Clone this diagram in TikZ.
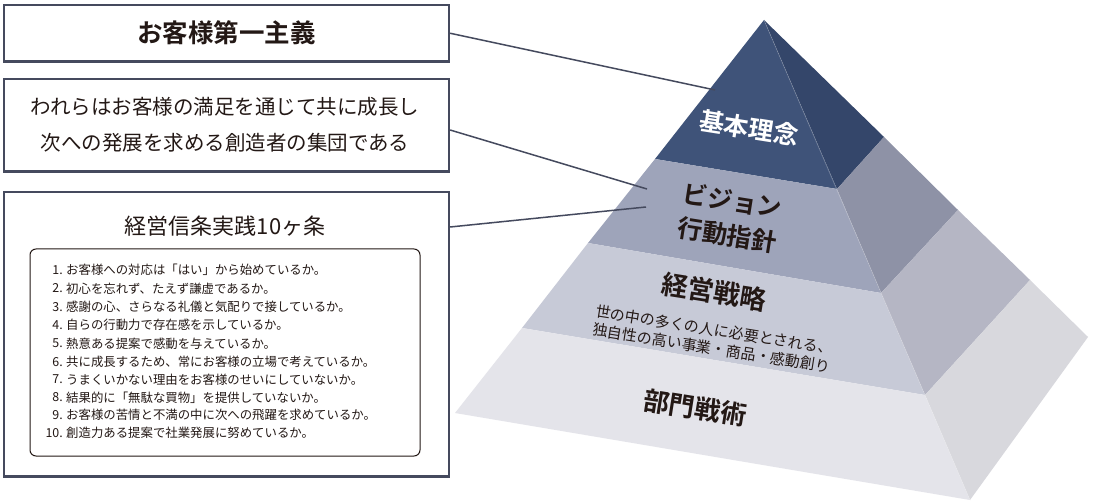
\documentclass[tikz,border=0pt]{standalone}
\usepackage{fontspec}
\newfontfamily\jp{Noto Sans CJK JP}[BoldFont={* Bold}]
\definecolor{frame}{HTML}{454A5E}
\definecolor{ink}{HTML}{231815}
\definecolor{f1}{HTML}{3F5379}
\definecolor{s1}{HTML}{34466A}
\definecolor{f2}{HTML}{9EA4BA}
\definecolor{s2}{HTML}{8E92A6}
\definecolor{f3}{HTML}{C7CAD7}
\definecolor{s3}{HTML}{B5B6C4}
\definecolor{f4}{HTML}{E4E4EA}
\definecolor{s4}{HTML}{D8D8DD}
\tikzset{
  box/.style={draw=frame, line width=2.2pt, inner sep=0pt},
  conn/.style={draw=frame, line width=1.5pt},
  tier/.style={font=\jp\bfseries\fontsize{25}{28}\selectfont, text=ink, inner sep=0pt, rotate=-9},
  sub/.style={font=\jp\fontsize{15}{18.5}\selectfont, text=ink, inner sep=0pt, rotate=-9, align=center},
  item/.style={font=\jp\fontsize{12.4}{14}\selectfont, text=ink, inner sep=0pt}
}
\begin{document}
\begin{tikzpicture}[x=1pt,y=-1pt]
\useasboundingbox (0,0) rectangle (1100,502);
\fill[white] (0,0) rectangle (1100,502);
% pyramid corners
\coordinate (A) at (764,20);
\coordinate (L1) at (655,159); \coordinate (F1) at (837,189); \coordinate (R1) at (884,137);
\coordinate (L2) at (588,243); \coordinate (F2) at (881,293); \coordinate (R2) at (958,210);
\coordinate (L3) at (522,328); \coordinate (F3) at (925,395); \coordinate (R3) at (1030,280);
\coordinate (L4) at (455,413); \coordinate (F4) at (970,500); \coordinate (R4) at (1088,337);
% faces
\fill[f1] (A) -- (L1) -- (F1) -- cycle;
\fill[s1] (A) -- (F1) -- (R1) -- cycle;
\fill[f2] (L1) -- (L2) -- (F2) -- (F1) -- cycle;
\fill[s2] (F1) -- (F2) -- (R2) -- (R1) -- cycle;
\fill[f3] (L2) -- (L3) -- (F3) -- (F2) -- cycle;
\fill[s3] (F2) -- (F3) -- (R3) -- (R2) -- cycle;
\fill[f4] (L3) -- (L4) -- (F4) -- (F3) -- cycle;
\fill[s4] (F3) -- (F4) -- (R4) -- (R3) -- cycle;
\draw[white, opacity=0.25, line width=0.6pt] (A) -- (F4);
% boxes
\node[box, minimum width=445pt, minimum height=56.5pt] (b1) at (226.5,33.25) {};
\node[font=\jp\bfseries\fontsize{25.5}{28}\selectfont, text=ink] (t1) at (226.5,33) {お客様第一主義};
\node[box, minimum width=445pt, minimum height=92.5pt] (b2) at (226.5,125.25) {};
\node[font=\jp\fontsize{20.5}{36}\selectfont, text=ink, align=center] (t2) at (225,125) {われらはお客様の満足を通じて共に成長し\\次への発展を求める創造者の集団である};
\node[box, minimum width=445pt, minimum height=284.5pt] (b3) at (226.5,334.25) {};
\node[font=\jp\fontsize{22}{24}\selectfont, text=ink] (t3) at (225,226) {経営信条実践10ヶ条};
\draw[ink, line width=1pt, rounded corners=6pt] (30,249) rectangle (420,456);
\foreach \n/\y/\t in {
 1/270.0/お客様への対応は「はい」から始めているか。,
 2/288.3/初心を忘れず、たえず謙虚であるか。,
 3/306.7/感謝の心、さらなる礼儀と気配りで接しているか。,
 4/325.0/自らの行動力で存在感を示しているか。,
 5/343.3/熱意ある提案で感動を与えているか。,
 6/361.7/共に成長するため、常にお客様の立場で考えているか。,
 7/379.5/うまくいかない理由をお客様のせいにしていないか。,
 8/397.3/結果的に「無駄な買物」を提供していないか。,
 9/415.0/お客様の苦情と不満の中に次への飛躍を求めているか。,
 10/433.3/創造力ある提案で社業発展に努めているか。}{
  \node[item, anchor=east] (n\n) at (63,\y) {\n.};
  \node[item, anchor=west] (i\n) at (66,\y) {\t};
}
% pyramid labels
\node[tier, text=white] (p1) at (749,128) {基本理念};
\node[tier, align=center, font=\jp\bfseries\fontsize{25}{35}\selectfont] (p2) at (730,218) {ビジョン\\行動指針};
\node[tier, font=\jp\bfseries\fontsize{26.5}{28}\selectfont] (p4) at (714,292) {経営戦略};
\node[sub] (p5) at (713,339) {世の中の多くの人に必要とされる、\\独自性の高い事業・商品・感動創り};
\node[tier, font=\jp\bfseries\fontsize{26}{28}\selectfont] (p7) at (695,408) {部門戦術};
% connectors
\coordinate (c1) at (715,90);
\coordinate (c2) at (647,189);
\coordinate (c3) at (646,207);
\draw[conn] (b1.east) -- (c1);
\draw[conn] (b2.east |- 0,130) -- (c2);
\draw[conn] (b3.east |- 0,227) -- (c3);
\end{tikzpicture}
\end{document}
